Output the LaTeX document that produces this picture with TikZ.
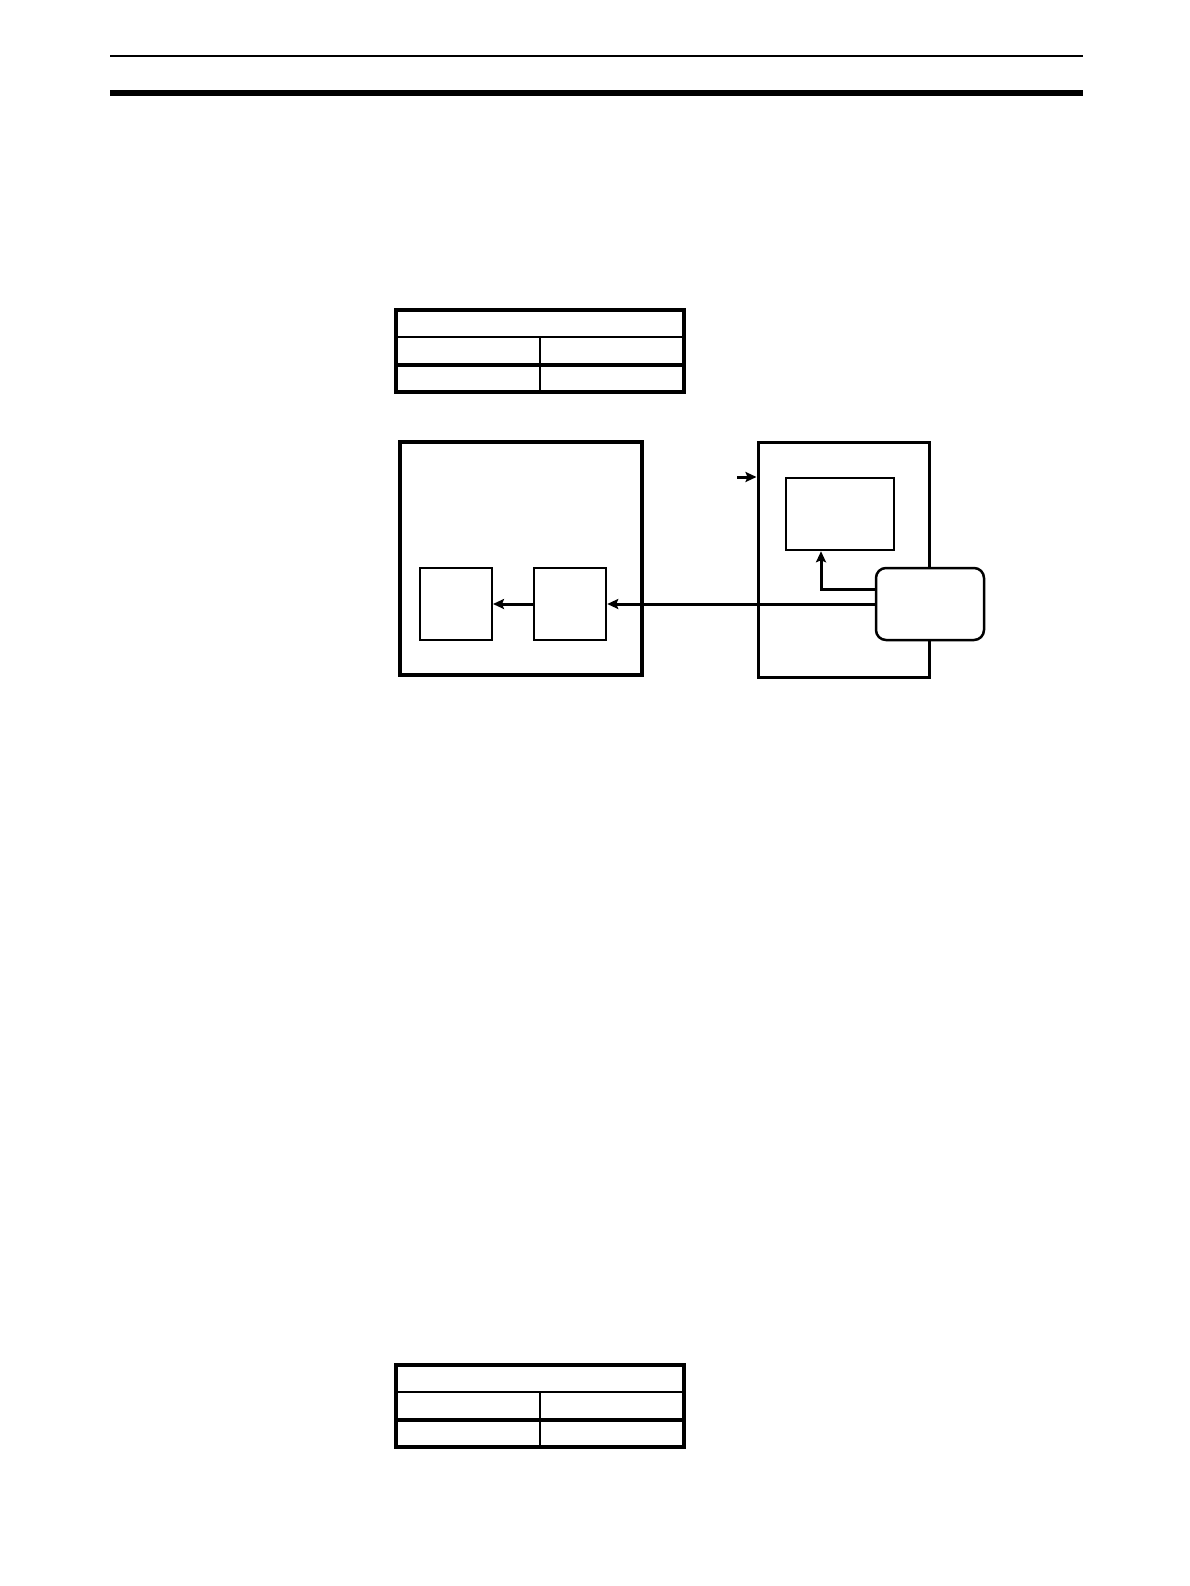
\documentclass[tikz,border=0pt]{standalone}
\usetikzlibrary{arrows.meta}
\tikzset{
	box/.style={draw, rectangle, inner sep=0pt, minimum width=#1},
	arr/.style={line width=3pt, -{Stealth[length=11pt,width=10pt,inset=2pt]}}
}
\begin{document}
\begin{tikzpicture}[x=1pt,y=-1pt]
		\useasboundingbox (0,0) rectangle (1190,1586);
		\def\tl{396};
		\def\tr{684};
		\def\tm{540};
		
		\draw[line width=2pt] (110,56) -- (1083,56);
		\draw[line width=6pt] (110,93) -- (1083,93);
		
		\foreach \ty in {310,1365} {
			\draw[line width=1.8pt] (\tl,\ty+27) -- (\tr,\ty+27);
			\draw[line width=1.8pt] (\tm,\ty+27) -- (\tm,\ty+82);
			\draw[line width=3.2pt] (\tl,\ty+55) -- (\tr,\ty+55);
			\draw[line width=3.2pt] (\tl,\ty) rectangle (\tr,\ty+82);
		}
		
		\node[box=242pt, minimum height=233pt, line width=3.5pt] (left) at (521,558.5) {};
		\node[box=72pt, minimum height=72pt, line width=2pt] (fa) at (456,604) {};
		\node[box=72pt, minimum height=72pt, line width=2.5pt] (fb) at (570,604) {};
		
		\node[box=171pt, minimum height=235pt, line width=3pt] (right) at (843.5,559.5) {};
		\node[box=108pt, minimum height=72pt, line width=2.5pt] (disp) at (840,514) {};
		\node[box=108pt, minimum height=72pt, line width=2.5pt, rounded corners=10pt, fill=white] (unit) at (930,604) {};
		
		\coordinate (feed) at (737,477);
		\draw[arr] (feed) -- (feed -| right.west);
		
		\draw[arr] (unit.west) -- (fb.east);
		\draw[arr] (fb.west) -- (fa.east);
		\draw[arr] ([yshift=15pt]unit.west) -| ([xshift=-19pt]disp.south);
	\end{tikzpicture}
\end{document}
